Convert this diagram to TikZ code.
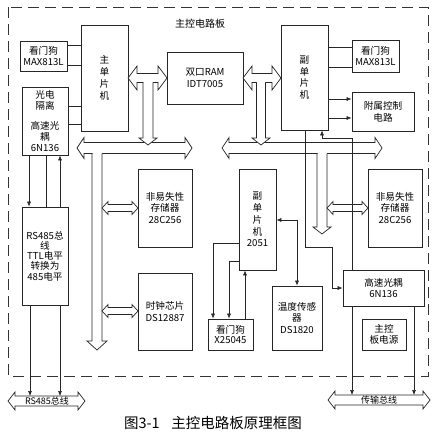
\documentclass[tikz,border=0pt]{standalone}
\usepackage{fontspec}
\newfontfamily\cjk{Noto Sans CJK SC}
\usetikzlibrary{arrows.meta}
\tikzset{
  box/.style={draw=black!85, line width=0.7pt, inner sep=0pt, align=center, font=\cjk\fontsize{9.6}{11.8}\selectfont},
  sig/.style={draw=black!85, line width=0.6pt},
  tip/.tip={Latex[length=5pt,width=4pt]},
  busline/.style={draw=black!85, fill=white, line width=0.7pt, line join=miter},
  frameline/.style={draw=black!80, line width=0.9pt, dash pattern=on 11pt off 6pt},
  lbl/.style={font=\cjk\fontsize{10}{11}\selectfont, inner sep=0pt},
  buslbl/.style={font=\cjk\fontsize{9}{9}\selectfont, inner sep=0pt}
}
% horizontal hollow double arrow: x1 x2 y shaft-half head-half head-length
\newcommand{\busH}[6]{%
  \filldraw[busline] (#1,#3) -- ({#1+#6},{#3-#5}) -- ({#1+#6},{#3-#4}) -- ({#2-#6},{#3-#4}) -- ({#2-#6},{#3-#5}) -- (#2,#3) -- ({#2-#6},{#3+#5}) -- ({#2-#6},{#3+#4}) -- ({#1+#6},{#3+#4}) -- ({#1+#6},{#3+#5}) -- cycle;}
% vertical hollow stem pointing down: cx ytop ytip shaft-half head-half head-length
\newcommand{\busV}[6]{%
  \fill[white] ({#1-#4+0.5},{#2-1.5}) rectangle ({#1+#4-0.5},{#3-#6});
  \filldraw[busline] ({#1-#4},#2) -- ({#1-#4},{#3-#6}) -- ({#1-#5},{#3-#6}) -- (#1,#3) -- ({#1+#5},{#3-#6}) -- ({#1+#4},{#3-#6}) -- ({#1+#4},#2);}
\begin{document}
\begin{tikzpicture}[x=1pt,y=-1pt]
\useasboundingbox[fill=white] (0,0) rectangle (435,433);

% frame
\draw[frameline] (8,7) rectangle (428,376);
\node[lbl] (title) at (200,24) {主控电路板};

% boxes
\node[box,minimum width=47pt,minimum height=30pt] (wdL) at (43.5,56) {看门狗\\MAX813L};
\node[box,minimum width=47pt,minimum height=106pt] (mcuM) at (104.5,78) {主\\单\\片\\机};
\node[box,minimum width=46pt,minimum height=68pt,font=\cjk\fontsize{9.6}{10.8}\selectfont] (opto1) at (45,121) {光电\\隔离\\[9pt]高速光\\耦\\6N136};
\node[box,minimum width=76pt,minimum height=52pt] (ram) at (205,78) {双口RAM\\IDT7005};
\node[box,minimum width=47pt,minimum height=105pt] (mcu2) at (304.5,77.5) {副\\单\\片\\机};
\node[box,minimum width=47pt,minimum height=32pt] (wdR) at (375.5,56) {看门狗\\MAX813L};
\node[box,minimum width=62pt,minimum height=39pt] (aux) at (383,111.5) {附属控制\\电路};
\node[box,minimum width=54pt,minimum height=78pt] (nvmL) at (165,208) {非易失性\\存储器\\28C256};
\node[box,minimum width=54pt,minimum height=77pt] (clock) at (165,311.5) {时钟芯片\\DS12887};
\node[box,minimum width=46pt,minimum height=98pt,font=\cjk\fontsize{9.6}{10.2}\selectfont] (rs485) at (45,256) {RS485总\\线\\TTL电平\\转换为\\485电平};
\node[box,minimum width=54pt,minimum height=78pt] (nvmR) at (395,208) {非易失性\\存储器\\28C256};
\node[box,minimum width=37pt,minimum height=101pt] (m2051) at (257.5,219.5) {副\\单\\片\\机\\2051};
\node[box,minimum width=50pt,minimum height=64pt] (temp) at (297,318) {温度传感\\器\\DS1820};
\node[box,minimum width=45pt,minimum height=31pt,font=\cjk\fontsize{9.6}{10.5}\selectfont] (x25) at (230.5,334.5) {看门狗\\X25045};
\node[box,minimum width=81pt,minimum height=36pt] (opto2) at (383.5,288) {高速光耦\\6N136};
\node[box,minimum width=44pt,minimum height=31pt,font=\cjk\fontsize{9.6}{10.5}\selectfont] (power) at (384,334.5) {主控\\板电源};

% hollow bus arrows
\busH{128}{167}{78}{4.5}{12}{9}
\busH{243}{281}{78}{4.5}{12}{9}
\busH{77}{192}{148}{5.5}{10.5}{7}
\busH{222}{382}{148}{5.5}{10.5}{7}
\busV{148}{82.5}{145}{5}{9}{7}
\busV{261}{82.5}{145}{4.5}{9}{7}
\busV{97}{153.5}{350}{5}{10}{9}
\busV{322}{153.5}{234}{5}{9}{7}
\busH{102}{138}{208}{3.5}{6.5}{6}
\busH{102}{138}{311}{3.5}{6.5}{6}
\busH{327}{368}{208}{3.5}{6.5}{6}
\busH{8}{85}{401}{5}{9}{7}
\busH{328}{430}{400}{5}{9}{7}
\node[buslbl] (rsbus) at (47,401) {RS485总线};
\node[buslbl] (trbus) at (379,400) {传输总线};
\coordinate (rsA) at (30,396);
\coordinate (rsB) at (60,396);
\coordinate (trA) at (352,395);
\coordinate (trB) at (414,395);

% signal lines
\draw[sig] (wdL.east |- 0,45) -- (mcuM.west |- 0,45);
\draw[sig] (wdL.east |- 0,65) -- (mcuM.west |- 0,65);
\draw[sig] (opto1.east |- 0,106) -- (mcuM.west |- 0,106);
\draw[sig] (opto1.east |- 0,124) -- (mcuM.west |- 0,124);
\draw[sig] (mcu2.east |- 0,47) -- (wdR.west |- 0,47);
\draw[sig] (mcu2.east |- 0,67) -- (wdR.west |- 0,67);
\draw[sig,-tip] (mcu2.east |- 0,99) -- (aux.west |- 0,99);
\draw[sig,-tip] (mcu2.east |- 0,118) -- (aux.west |- 0,118);

\draw[sig,-tip] (opto1.south -| 29,0) -- (rs485.north -| 29,0);
\draw[sig] (opto1.south -| 46,0) -- (rs485.north -| 46,0);
\draw[sig,-tip] (rs485.north -| 60,0) -- (opto1.south -| 60,0);
\draw[sig,-tip] (rs485.south -| 30,0) -- (rsA);
\draw[sig,-tip] (rs485.south -| 60,0) -- (rsB);

\draw[sig,-tip] (opto2.south -| 352,0) -- (trA);
\draw[sig,-tip] (opto2.south -| 414,0) -- (trB);

\draw[sig,-tip] (mcu2.south -| 305,0) -- (305,247) -| (332,288) -- (opto2.west |- 0,288);
\draw[sig,-tip] (opto2.north -| 352,0) |- (322,138) -- (mcu2.south -| 322,0);

\draw[sig,tip-tip] (m2051.east |- 0,220) -| (temp.north -| 297,0);
\draw[sig,-tip] (m2051.west |- 0,243) -| (x25.north -| 213,0);
\draw[sig,-tip] (m2051.west |- 0,261) -| (x25.north -| 229,0);
\draw[sig,-tip] (x25.north -| 245,0) -- (m2051.south -| 245,0);

% caption
\node[font=\cjk\fontsize{14.5}{16}\selectfont, inner sep=0pt] (cap) at (213,423) {图3-1\hspace{0.8em}主控电路板原理框图};
\end{tikzpicture}
\end{document}
